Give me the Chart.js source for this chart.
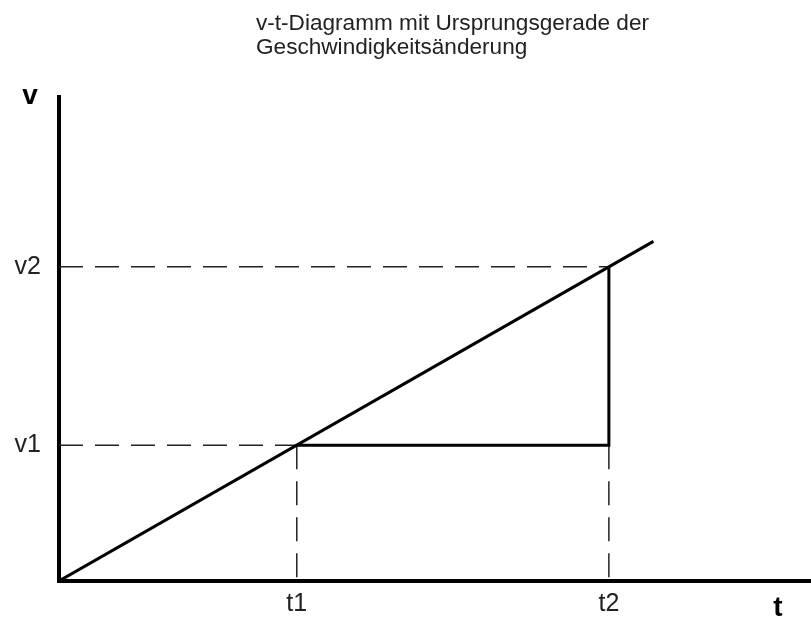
<!DOCTYPE html>
<html>
<head>
<meta charset="utf-8">
<script src="https://cdn.jsdelivr.net/npm/chart.js@4.4.1/dist/chart.umd.min.js"></script>
<style>
  html, body { margin: 0; padding: 0; background: #fff; }
  #wrap { width: 811px; height: 629px; position: relative; }
</style>
</head>
<body>
<div id="wrap"><canvas id="c"></canvas></div>
<script>
// ---- data ----
const titleLines = ['v-t-Diagramm mit Ursprungsgerade der', 'Geschwindigkeitsänderung'];
const xAxisName = 't';
const yAxisName = 'v';
const timeTicks = [4, 9.25];          // t1, t2
const timeTickLabels = ['t1', 't2'];
const speedTicks = [4, 9.25];         // v1, v2
const speedTickLabels = ['v1', 'v2'];
const lineT = [0, 10];                // Ursprungsgerade
const lineV = [0, 10];
const xMax = 12.65;
const yMax = 14.25;

const t1 = timeTicks[0], t2 = timeTicks[1];
const v1 = speedTicks[0], v2 = speedTicks[1];

const solid = { borderColor: '#000', borderWidth: 3, pointRadius: 0, showLine: true, fill: false, tension: 0 };
const dashed = { borderColor: '#222', borderWidth: 1.5, borderDash: [24, 12], pointRadius: 0, showLine: true, fill: false, tension: 0 };

const datasets = [
  Object.assign({ label: 'Gerade', data: lineT.map((t, i) => ({ x: t, y: lineV[i] })) }, solid),
  Object.assign({ label: 'Dreieck', data: [{ x: t1, y: v1 }, { x: t2, y: v1 }, { x: t2, y: v2 }] }, solid),
  Object.assign({ label: 'v2-Hilfslinie', data: [{ x: 0, y: v2 }, { x: t2, y: v2 }] }, dashed),
  Object.assign({ label: 'v1-Hilfslinie', data: [{ x: 0, y: v1 }, { x: t1, y: v1 }] }, dashed),
  Object.assign({ label: 't1-Hilfslinie', data: [{ x: t1, y: v1 }, { x: t1, y: 0 }] }, dashed),
  Object.assign({ label: 't2-Hilfslinie', data: [{ x: t2, y: v1 }, { x: t2, y: 0 }] }, dashed)
];

const textPlugin = {
  id: 'texts',
  afterDraw(chart) {
    const ctx = chart.ctx;
    const ys = chart.scales.y;
    ctx.save();
    ctx.fillStyle = '#222';
    ctx.font = '22.6px "Liberation Sans", Arial, sans-serif';
    ctx.textAlign = 'left';
    ctx.textBaseline = 'alphabetic';
    ctx.fillText(titleLines[0], 256, 30);
    ctx.fillText(titleLines[1], 256, 54);
    ctx.fillStyle = '#000';
    ctx.font = 'bold 28px "Liberation Sans", Arial, sans-serif';
    ctx.textAlign = 'center';
    ctx.fillText(yAxisName, 30, ys.top + 7);
    ctx.fillText(xAxisName, 778, 616);
    ctx.restore();
  }
};

new Chart(document.getElementById('c'), {
  type: 'scatter',
  data: { datasets },
  options: {
    responsive: true,
    maintainAspectRatio: false,
    devicePixelRatio: 1,
    animation: false,
    layout: { padding: { top: 97, left: 0, right: 0, bottom: 0 } },
    plugins: { legend: { display: false }, tooltip: { enabled: false }, title: { display: false } },
    scales: {
      x: {
        type: 'linear', min: 0, max: xMax,
        grid: { display: false, drawTicks: false },
        border: { display: true, color: '#000', width: 4 },
        afterFit(s) { s.height = 48; },
        afterBuildTicks(s) { s.ticks = timeTicks.map(v => ({ value: v })); },
        ticks: {
          autoSkip: false, maxRotation: 0, padding: 8, color: '#222',
          font: { size: 25, family: '"Liberation Sans", Arial, sans-serif' },
          callback(value) { const i = timeTicks.indexOf(value); return i >= 0 ? timeTickLabels[i] : ''; }
        }
      },
      y: {
        type: 'linear', min: 0, max: yMax,
        grid: { display: false, drawTicks: false },
        border: { display: true, color: '#000', width: 4 },
        afterFit(s) { s.width = 59; },
        afterBuildTicks(s) { s.ticks = speedTicks.map(v => ({ value: v })); },
        ticks: {
          autoSkip: false, padding: 18, color: '#222',
          font: { size: 25, family: '"Liberation Sans", Arial, sans-serif' },
          callback(value) { const i = speedTicks.indexOf(value); return i >= 0 ? speedTickLabels[i] : ''; }
        }
      }
    }
  },
  plugins: [textPlugin]
});
</script>
</body>
</html>
